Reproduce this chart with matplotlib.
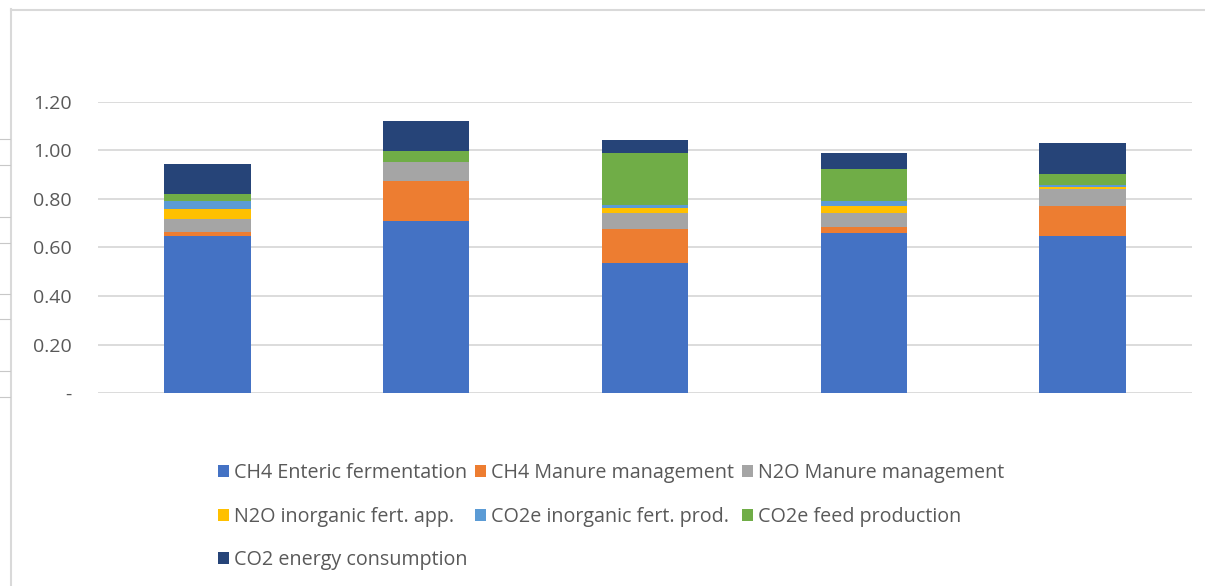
import matplotlib.pyplot as plt
import numpy as np

plt.rcParams['font.family'] = ['Open Sans', 'DejaVu Sans']

# category names are unreadable in the source picture, so the ticks stay blank
categories = ['', '', '', '', '']

ch4_enteric = [0.646, 0.711, 0.537, 0.661, 0.647]
ch4_manure = [0.019, 0.163, 0.139, 0.025, 0.124]
n2o_manure = [0.051, 0.080, 0.065, 0.055, 0.070]
n2o_fert_app = [0.044, 0.000, 0.021, 0.030, 0.010]
co2e_fert_prod = [0.032, 0.000, 0.013, 0.021, 0.007]
co2e_feed = [0.029, 0.044, 0.213, 0.132, 0.044]
co2_energy = [0.122, 0.124, 0.055, 0.064, 0.130]

series = [
    ('CH4 Enteric fermentation', ch4_enteric, '#4472C4'),
    ('CH4 Manure management', ch4_manure, '#ED7D31'),
    ('N2O Manure management', n2o_manure, '#A5A5A5'),
    ('N2O inorganic fert. app.', n2o_fert_app, '#FFC000'),
    ('CO2e inorganic fert. prod.', co2e_fert_prod, '#5B9BD5'),
    ('CO2e feed production', co2e_feed, '#70AD47'),
    ('CO2 energy consumption', co2_energy, '#264478'),
]

yticks = [0, 0.2, 0.4, 0.6, 0.8, 1.0, 1.2]
ytick_labels = ['-', '0.20', '0.40', '0.60', '0.80', '1.00', '1.20']

W, H = 1205, 586
fig = plt.figure(figsize=(W / 100, H / 100), dpi=100)

# chart frame (top and left edges visible in the screenshot)
fig.add_artist(plt.Line2D([11 / W, 11 / W], [0, 1 - 9 / H], color='#D9D9D9', lw=1.5))
fig.add_artist(plt.Line2D([11 / W, 1], [1 - 10 / H, 1 - 10 / H], color='#D9D9D9', lw=1.5))
# fragments of the sheet behind the chart
for yy in [139, 165, 217, 243, 294, 319, 371, 397]:
    fig.add_artist(plt.Line2D([0, 10 / W], [1 - yy / H] * 2, color='#C8C8C8', lw=0.8))

ax = fig.add_axes([98 / W, 1 - 393 / H, (1192 - 98) / W, (393 - 102) / H])

x = np.arange(len(categories))
bottom = np.zeros(len(categories))
handles = []
for label, vals, color in series:
    b = ax.bar(x, vals, 0.395, bottom=bottom, color=color, label=label, zorder=3)
    handles.append(b)
    bottom += np.array(vals)

ax.set_xlim(-0.5, 4.5)
ax.set_ylim(0, 1.2)
ax.set_yticks(yticks)
ax.set_yticklabels(ytick_labels)
ax.set_xticks(x)
ax.set_xticklabels(categories)
ax.yaxis.grid(True, color='#D9D9D9', lw=1.3, zorder=0)
ax.tick_params(axis='y', length=0, pad=19, labelsize=14, labelcolor='#595959')
ax.tick_params(axis='x', length=0)
for s in ax.spines.values():
    s.set_visible(False)

order = [0, 3, 6, 1, 4, 2, 5]
leg = fig.legend([handles[i] for i in order], [series[i][0] for i in order],
                 ncol=3, loc='upper left', bbox_to_anchor=(218 / W, 1 - 463 / H),
                 frameon=False, fontsize=14.2, handlelength=0.55, handleheight=0.55,
                 handletextpad=0.25, columnspacing=0.4, labelspacing=1.2,
                 borderpad=0, borderaxespad=0)
for t in leg.get_texts():
    t.set_color('#595959')

fig.savefig('out.png', dpi=100)
